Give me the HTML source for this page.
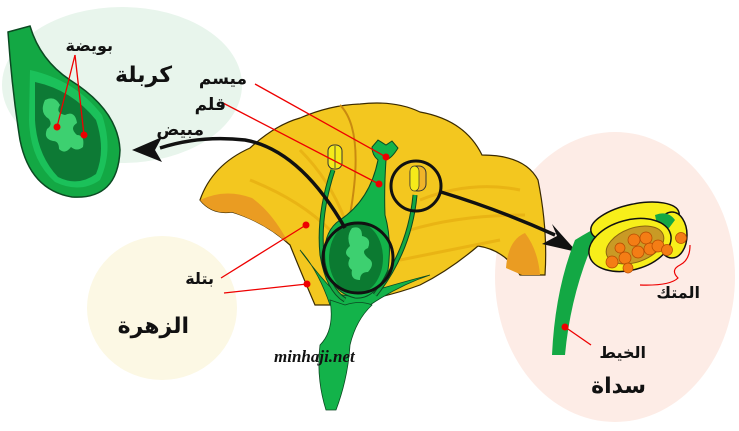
<!DOCTYPE html>
<html><head><meta charset="utf-8"><style>
html,body{margin:0;padding:0;background:#fff}
svg{display:block}
text{font-family:"DejaVu Sans","Liberation Sans",sans-serif;fill:#111}
</style></head><body>
<svg width="739" height="431" viewBox="0 0 739 431" xmlns="http://www.w3.org/2000/svg">
<ellipse cx="122" cy="85" rx="120" ry="78" fill="#e8f5ec"/>
<ellipse cx="162" cy="308" rx="75" ry="72" fill="#fcf8e4"/>
<ellipse cx="615" cy="277" rx="120" ry="145" fill="#fdece6"/>

<!-- carpel left -->
<path d="M8 32 L30 26 Q40 60 70 80 Q118 110 120 150 Q118 200 72 197 Q30 190 20 140 Q12 90 8 32Z" fill="#13a844" stroke="#0b4a22" stroke-width="1.5"/>
<path d="M30 70 Q75 80 102 115 Q114 150 100 180 Q80 194 55 182 Q30 160 29 120Z" fill="#1bc15a"/>
<path d="M35 82 Q72 90 96 120 Q106 150 96 174 Q78 187 58 177 Q37 155 35 120Z" fill="#0d7a35"/>
<path d="M45 100 q10 -5 15 5 q-5 8 5 10 q10 -5 12 8 q-8 5 0 12 q8 0 6 12 q-6 5 -12 0 q-6 8 -12 2 q0 -8 -6 -8 q-10 -2 -6 -12 q6 -4 2 -10 q-10 -6 -4 -19z" fill="#3dd070"/>
<line x1="75" y1="55" x2="57" y2="127" stroke="#e00" stroke-width="1.3"/>
<line x1="75" y1="55" x2="84" y2="135" stroke="#e00" stroke-width="1.3"/>
<circle cx="57" cy="127" r="3.5" fill="#e00"/><circle cx="84" cy="135" r="3.5" fill="#e00"/>

<!-- flower petals -->
<path d="M200 200 Q212 165 250 148 Q275 125 300 118 Q330 105 360 104 Q395 100 420 112 Q465 120 482 155 Q525 155 538 180 Q548 230 545 275 L520 275 Q505 250 478 246 Q450 270 420 285 Q380 300 330 305 L315 305 Q300 270 290 245 Q265 222 232 212 Q212 215 200 200Z" fill="#f3c71f" stroke="#3a2a00" stroke-width="1.2"/>
<path d="M200 200 Q225 188 252 198 Q272 212 288 242 L284 240 Q262 222 232 212 Q212 215 200 200Z" fill="#ea9c22"/>
<path d="M506 268 Q508 240 525 233 Q538 250 540 275 L522 275Z" fill="#ea9c22"/>
<path d="M340 105 Q365 130 350 215" stroke="#c98a10" stroke-width="2" fill="none"/>
<path d="M250 180 Q300 200 330 230 M300 150 Q330 180 345 220 M420 200 Q470 180 520 190 M410 230 Q460 215 525 215 M400 260 Q450 250 500 240" stroke="#e2a70e" stroke-width="3" fill="none" opacity="0.6"/>

<path d="M300 250 Q318 270 330 305 Q350 312 370 305 Q400 285 430 275 Q395 284 370 292 Q350 300 335 292 Q318 275 300 250Z" fill="#13b34a" stroke="#0b4a22" stroke-width="0.8"/>
<path d="M330 300 Q335 330 320 345 Q316 378 326 410 L336 410 Q348 378 350 345 Q356 320 372 305 Q360 300 345 305Z" fill="#13b34a" stroke="#0b4a22" stroke-width="0.8"/>
<path d="M333 170 Q318 215 322 255 Q328 290 345 300" stroke="#0b4a22" stroke-width="5" fill="none"/>
<path d="M333 170 Q318 215 322 255 Q328 290 345 300" stroke="#13a844" stroke-width="3" fill="none"/>
<path d="M415 195 Q410 250 375 295" stroke="#0b4a22" stroke-width="5" fill="none"/>
<path d="M415 195 Q410 250 375 295" stroke="#13a844" stroke-width="3" fill="none"/>
<path d="M378 140 L386 145 L392 141 L398 148 Q392 158 386 160 Q384 190 385 215 Q392 240 388 270 Q375 300 355 298 Q330 292 325 262 Q322 232 340 220 Q370 200 378 160 Q372 155 372 147Z" fill="#13b34a" stroke="#0b4a22" stroke-width="1"/>
<ellipse cx="356" cy="258" rx="27" ry="36" fill="#0b7a31"/>
<path d="M352 228 q10 -3 10 8 q10 2 6 12 q-8 3 0 10 q8 5 0 14 q-8 0 -8 8 q-10 0 -8 -10 q-6 -4 -2 -12 q-8 -5 0 -12 q-4 -10 2 -18z" fill="#3dd070"/>
<rect x="328" y="145" width="14" height="24" rx="6" fill="#f5ea1a" stroke="#333"/>
<line x1="335" y1="146" x2="335" y2="168" stroke="#333" stroke-width="0.8"/>
<rect x="410" y="166" width="16" height="25" rx="7" fill="#f0b429" stroke="#333"/>
<rect x="410" y="166" width="9" height="25" rx="5" fill="#f5ea1a" stroke="#333" stroke-width="0.7"/>

<circle cx="358" cy="258" r="35" fill="none" stroke="#111" stroke-width="3"/>
<circle cx="416" cy="186" r="25" fill="none" stroke="#111" stroke-width="3"/>

<path d="M345 228 Q300 150 245 140 Q200 135 160 148" stroke="#111" stroke-width="3.5" fill="none"/>
<polygon points="132,150 162,137 155,150 162,162" fill="#111"/>
<path d="M441 192 Q500 210 555 235" stroke="#111" stroke-width="3.5" fill="none"/>
<polygon points="577,252 552,224 557,236 542,244" fill="#111"/>

<g stroke="#e00" stroke-width="1.3">
<line x1="255" y1="84" x2="386" y2="157"/>
<line x1="223" y1="103" x2="379" y2="184"/>
<line x1="221" y1="278" x2="306" y2="225"/>
<line x1="224" y1="293" x2="307" y2="284"/>
</g>
<g fill="#e00"><circle cx="386" cy="157" r="3.5"/><circle cx="379" cy="184" r="3.5"/><circle cx="306" cy="225" r="3.5"/><circle cx="307" cy="284" r="3.5"/></g>

<path d="M575 240 Q555 290 552 355 L565 355 Q570 300 590 250 Q620 225 660 210 L655 205 Q615 215 575 240Z" fill="#13a844"/>
<ellipse cx="635" cy="222" rx="45" ry="18" fill="#f7ee1a" stroke="#111" stroke-width="1.5" transform="rotate(-12 635 222)"/>
<ellipse cx="672" cy="235" rx="15" ry="23" fill="#f7ee1a" stroke="#111" stroke-width="1.5"/>
<path d="M655 215 Q668 210 675 220 L660 240Z" fill="#13a844"/>
<ellipse cx="630" cy="245" rx="42" ry="25" fill="#f7ee1a" stroke="#111" stroke-width="1.5" transform="rotate(-15 630 245)"/>
<ellipse cx="635" cy="245" rx="30" ry="17" fill="#c99a25" stroke="#8a6510" transform="rotate(-20 635 245)"/>
<g fill="#f47d15" stroke="#b34a00" stroke-width="0.7">
<circle cx="612" cy="262" r="6"/><circle cx="625" cy="258" r="6"/><circle cx="638" cy="252" r="6"/><circle cx="620" cy="248" r="5"/><circle cx="634" cy="240" r="6"/><circle cx="646" cy="238" r="6"/><circle cx="650" cy="249" r="6"/><circle cx="658" cy="246" r="6"/><circle cx="667" cy="250" r="5.5"/><circle cx="681" cy="238" r="5.5"/><circle cx="628" cy="268" r="5"/></g>
<path d="M690 245 Q690 260 680 265 Q670 270 678 278 Q670 286 640 285" stroke="#e00" stroke-width="1.2" fill="none"/>
<line x1="565" y1="327" x2="591" y2="345" stroke="#e00" stroke-width="1.3"/>
<circle cx="565" cy="327" r="3.5" fill="#e00"/>

<g direction="rtl">
<text x="113" y="51" font-size="16" font-weight="bold">بويضة</text>
<text x="172" y="82" font-size="22" font-weight="bold">كربلة</text>
<text x="247" y="84" font-size="17" font-weight="bold">ميسم</text>
<text x="226" y="110" font-size="17" font-weight="bold">قلم</text>
<text x="204" y="135" font-size="17" font-weight="bold">مبيض</text>
<text x="214" y="284" font-size="16" font-weight="bold">بتلة</text>
<text x="189" y="333" font-size="22" font-weight="bold">الزهرة</text>
<text x="700" y="298" font-size="16" font-weight="bold">المتك</text>
<text x="646" y="358" font-size="16" font-weight="bold">الخيط</text>
<text x="646" y="393" font-size="22" font-weight="bold">سداة</text>
</g>
<text x="274" y="362" style="font-family:'Liberation Serif',serif;font-size:17px;font-style:italic;font-weight:bold">minhaji.net</text>
</svg>
</body></html>
